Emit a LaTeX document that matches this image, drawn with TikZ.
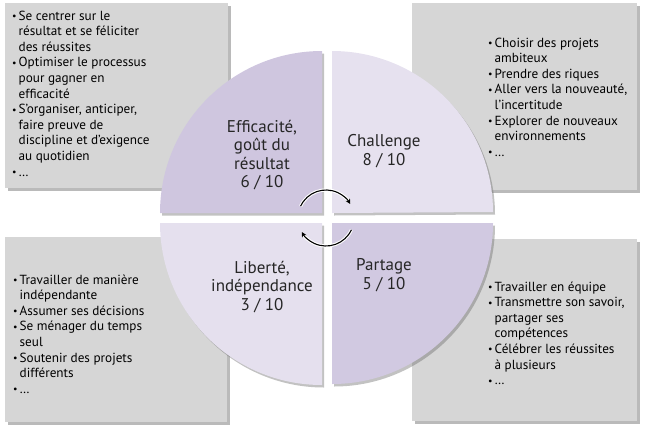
\documentclass[tikz,border=0pt]{standalone}
\usepackage{fontspec}
\setmainfont{PT Sans}
\usepackage{graphicx}
\usetikzlibrary{arrows.meta,positioning,shadows}
\definecolor{boxgray}{HTML}{D6D6D6}
\definecolor{quaddark}{HTML}{CFC6DF}
\definecolor{quadlight}{HTML}{E6E1EF}
\definecolor{labelgray}{HTML}{262626}
\newcommand{\puce}{\raisebox{0.1ex}{\scalebox{0.75}{\textbullet}}}

\begin{document}
\begin{tikzpicture}[
    x=1pt, y=1pt,
    box/.style={fill=boxgray, anchor=north west, inner sep=0pt,
                drop shadow={shadow xshift=2.5pt, shadow yshift=-2.5pt,
                             fill=black!60, opacity=.45}},
    liste/.style={anchor=north west, inner sep=0pt, align=left,
                  font=\fontsize{13.2}{15.6}\selectfont},
    quad/.style={drop shadow={shadow xshift=2pt, shadow yshift=-2.5pt,
                              fill=black!60, opacity=.4}},
    label/.style={align=center, text=labelgray,
                  font=\fontsize{17}{18.5}\selectfont},
    cycle arrow/.style={-{Stealth[length=5pt,width=5pt]}, line width=1.1pt,
                        preaction={draw=white, line width=3.2pt}},
]
  \useasboundingbox (0,0) rectangle (647,-434);

  % grey boxes
  \node[box,minimum width=223pt,minimum height=185pt] (effBox) at (5,-3) {};
  \node[box,minimum width=225pt,minimum height=187pt] (chaBox) at (412,-3) {};
  \node[box,minimum width=222pt,minimum height=185pt] (libBox) at (5,-237) {};
  \node[box,minimum width=225pt,minimum height=182pt] (parBox) at (412,-239) {};

  % lists
  \node[liste] (effListe) at (12,-9) {\begin{tabular}{@{}l@{\hspace{2pt}}l@{}}
    \puce & Se centrer sur le\\
          & résultat et se féliciter\\
          & des réussites\\
    \puce & Optimiser le processus\\
          & pour gagner en\\
          & efficacité\\
    \puce & S’organiser, anticiper,\\
          & faire preuve de\\
          & discipline et d’exigence\\
          & au quotidien\\
    \puce & …
  \end{tabular}};
  \node[liste] (chaListe) at (488,-36) {\begin{tabular}{@{}l@{\hspace{2pt}}l@{}}
    \puce & Choisir des projets\\
          & ambiteux\\
    \puce & Prendre des riques\\
    \puce & Aller vers la nouveauté,\\
          & l’incertitude\\
    \puce & Explorer de nouveaux\\
          & environnements\\
    \puce & …
  \end{tabular}};
  \node[liste] (libListe) at (13,-273) {\begin{tabular}{@{}l@{\hspace{2pt}}l@{}}
    \puce & Travailler de manière\\
          & indépendante\\
    \puce & Assumer ses décisions\\
    \puce & Se ménager du temps\\
          & seul\\
    \puce & Soutenir des projets\\
          & différents\\
    \puce & …
  \end{tabular}};
  \node[liste] (parListe) at (488,-280) {\begin{tabular}{@{}l@{\hspace{2pt}}l@{}}
    \puce & Travailler en équipe\\
    \puce & Transmettre son savoir,\\
          & partager ses\\
          & compétences\\
    \puce & Célébrer les réussites\\
          & à plusieurs\\
    \puce & …
  \end{tabular}};

  % quarters of the circle
  \fill[quad,quaddark]  (322,-213) -- ++(-162,0) arc[start angle=180,end angle=90,radius=162] -- cycle;
  \fill[quad,quadlight] (332,-213) -- ++(0,162) arc[start angle=90,end angle=0,radius=161] -- cycle;
  \fill[quad,quadlight!97!quaddark] (322,-223) -- ++(-162,0) arc[start angle=180,end angle=270,radius=162] -- cycle;
  \fill[quad,quaddark!90!quadlight] (332,-223) -- ++(0,-161) arc[start angle=270,end angle=360,radius=161] -- cycle;

  % labels
  \node[label] (eff) at (262,-155) {Efficacité,\\goût du\\résultat\\6 / 10};
  \node[label] (cha) at (384,-151) {Challenge\\8 / 10};
  \node[label] (lib) at (262,-287) {Liberté,\\indépendance\\3 / 10};
  \node[label] (par) at (384,-275) {Partage\\5 / 10};

  % turning arrows
  \coordinate (ctr) at (326,-218);
  \draw[cycle arrow] ([shift={(155:28)}]ctr) arc[start angle=155,end angle=30,radius=28];
  \draw[cycle arrow] ([shift={(-25:28)}]ctr) arc[start angle=-25,end angle=-150,radius=28];
\end{tikzpicture}
\end{document}
